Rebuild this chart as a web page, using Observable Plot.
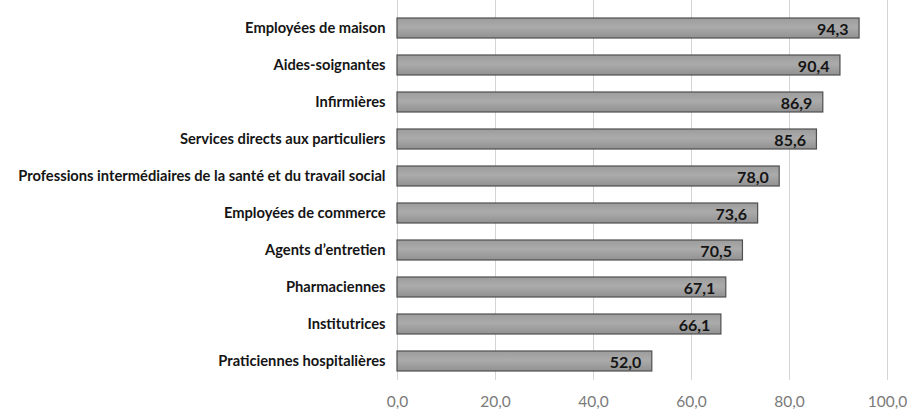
<!DOCTYPE html>
<html>
<head>
<meta charset="utf-8">
<script src="https://cdn.jsdelivr.net/npm/d3@7"></script>
<script src="https://cdn.jsdelivr.net/npm/@observablehq/plot@0.6"></script>
<style>
  html, body { margin: 0; padding: 0; background: #fff; }
  #chart { width: 923px; height: 414px; }
</style>
</head>
<body>
<div id="chart"></div>
<script>
const categories = [
  "Employées de maison",
  "Aides-soignantes",
  "Infirmières",
  "Services directs aux particuliers",
  "Professions intermédiaires de la santé et du travail social",
  "Employées de commerce",
  "Agents d’entretien",
  "Pharmaciennes",
  "Institutrices",
  "Praticiennes hospitalières"
];
const values = [94.3, 90.4, 86.9, 85.6, 78.0, 73.6, 70.5, 67.1, 66.1, 52.0];
const xTicks = [0, 20, 40, 60, 80, 100];

const data = categories.map((c, i) => ({category: c, value: values[i]}));
const fmt = d => d.toFixed(1).replace(".", ",");

const chart = Plot.plot({
  width: 923,
  height: 414,
  marginLeft: 397,
  marginRight: 36,
  marginTop: 0,
  marginBottom: 26,
  style: {fontFamily: "Lato, 'Open Sans', sans-serif", background: "#fff"},
  x: {domain: [0, 100], ticks: xTicks, tickFormat: fmt, label: null},
  y: {domain: categories, padding: 0.46, label: null},
  marks: [
    Plot.gridX(xTicks, {stroke: "#d4d4d4", strokeOpacity: 1, insetBottom: 8}),
    Plot.barX(data, {x: "value", y: "category", fill: "url(#barGrad)", stroke: "#4f4f4f", strokeWidth: 1.2}),
    Plot.text(data, {x: "value", y: "category", text: d => fmt(d.value), textAnchor: "end", dx: -11, dy: 1, fontWeight: "bold", fontSize: 16, fill: "#151515"}),
    Plot.axisX({ticks: xTicks, tickFormat: fmt, tickSize: 0, tickPadding: 7, fontSize: 15.5, fill: "#7a7a7a", label: null}),
    Plot.axisY({tickSize: 0, tickPadding: 12, fontSize: 14.7, fontWeight: "bold", fill: "#151515", label: null})
  ]
});

// gradient definition for bar fill
const ns = "http://www.w3.org/2000/svg";
const defs = document.createElementNS(ns, "defs");
const grad = document.createElementNS(ns, "linearGradient");
grad.setAttribute("id", "barGrad");
grad.setAttribute("x1", "0"); grad.setAttribute("y1", "0");
grad.setAttribute("x2", "0"); grad.setAttribute("y2", "1");
[["0", "#9c9c9c"], ["0.45", "#ababab"], ["1", "#919191"]].forEach(([o, c]) => {
  const s = document.createElementNS(ns, "stop");
  s.setAttribute("offset", o); s.setAttribute("stop-color", c);
  grad.appendChild(s);
});
defs.appendChild(grad);
chart.insertBefore(defs, chart.firstChild);

document.getElementById("chart").appendChild(chart);
</script>
</body>
</html>
